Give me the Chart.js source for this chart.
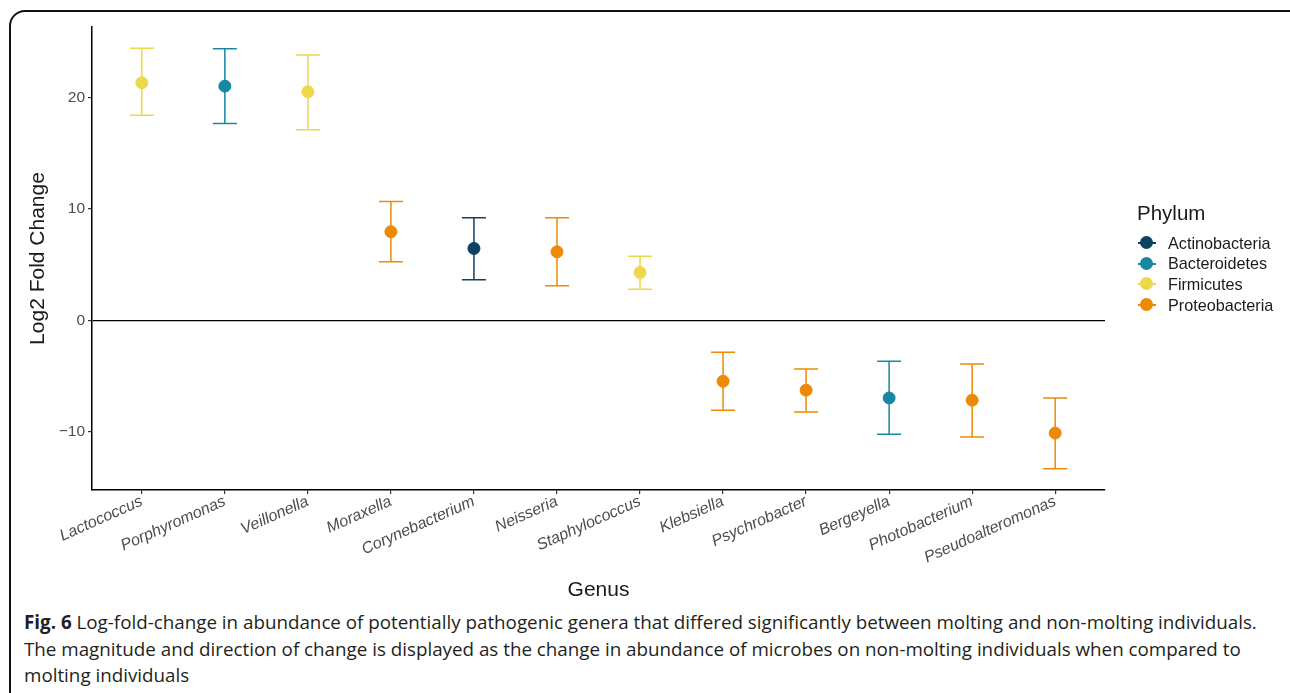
<!DOCTYPE html>
<html>
<head>
<meta charset="utf-8">
<script src="https://cdn.jsdelivr.net/npm/chart.js@4.4.1/dist/chart.umd.min.js"></script>
<style>
  html, body { margin: 0; padding: 0; background: #fff; }
  body { width: 1290px; height: 693px; position: relative; overflow: hidden; font-family: "Liberation Sans", Arial, sans-serif; }
  #frame { position: absolute; left: 9px; top: 10px; width: 1300px; height: 720px; border: 2px solid #111; border-radius: 16px; box-sizing: border-box; }
  #wrap { position: absolute; left: 0; top: 0; width: 1290px; height: 603px; }
  #legend { position: absolute; left: 1137px; top: 201px; color: #1a1a1a; }
  #legend .title { font-size: 20.5px; margin-bottom: 8px; }
  #legend .item { display: flex; align-items: center; height: 20.6px; font-size: 16.2px; }
  #legend .key { position: relative; width: 20px; height: 14px; margin-right: 11px; }
  #legend .key .ln { position: absolute; left: 1px; right: 1px; top: 6px; height: 2px; }
  #legend .key .dot { position: absolute; left: 3px; top: 0; width: 13px; height: 13px; border-radius: 50%; }
  #caption { position: absolute; left: 24px; top: 609px; width: 1260px; font-family: "Open Sans", "Noto Sans", sans-serif; font-size: 18.8px; line-height: 26.5px; color: #231f20; white-space: nowrap; }
  #caption b { font-weight: 700; }
</style>
</head>
<body>
<div id="frame"></div>
<div id="wrap"><canvas id="chart" width="1290" height="603"></canvas></div>
<div id="legend"></div>
<div id="caption"><b>Fig. 6</b> Log-fold-change in abundance of potentially pathogenic genera that differed significantly between molting and non-molting individuals.<br>The magnitude and direction of change is displayed as the change in abundance of microbes on non-molting individuals when compared to<br>molting individuals</div>
<script>
// genera in plot order, with phylum, estimate and interval
const genera = ['Lactococcus', 'Porphyromonas', 'Veillonella', 'Moraxella', 'Corynebacterium', 'Neisseria',
  'Staphylococcus', 'Klebsiella', 'Psychrobacter', 'Bergeyella', 'Photobacterium', 'Pseudoalteromonas'];
const genusPhylum = ['Firmicutes', 'Bacteroidetes', 'Firmicutes', 'Proteobacteria', 'Actinobacteria', 'Proteobacteria',
  'Firmicutes', 'Proteobacteria', 'Proteobacteria', 'Bacteroidetes', 'Proteobacteria', 'Proteobacteria'];
const log2fc = [21.3, 21.0, 20.5, 7.95, 6.45, 6.15, 4.3, -5.45, -6.25, -6.95, -7.15, -10.1];
const lower  = [18.4, 17.65, 17.1, 5.25, 3.65, 3.1, 2.8, -8.05, -8.2, -10.2, -10.45, -13.3];
const upper  = [24.4, 24.35, 23.8, 10.65, 9.2, 9.2, 5.75, -2.85, -4.35, -3.65, -3.9, -6.95];

const phyla = ['Actinobacteria', 'Bacteroidetes', 'Firmicutes', 'Proteobacteria'];
const phylumColors = ['#0d4262', '#1787a3', '#ecd84b', '#ec8a06'];
const yTicks = [-10, 0, 10, 20];

const colorOf = p => phylumColors[phyla.indexOf(p)];
const pointColors = genusPhylum.map(colorOf);

// error bars, drawn under the points
const errorBars = {
  id: 'errorBars',
  beforeDatasetsDraw(chart) {
    const { ctx, scales: { x, y } } = chart;
    ctx.save();
    ctx.lineWidth = 1.5;
    genera.forEach((g, i) => {
      const px = x.getPixelForValue(i);
      const top = y.getPixelForValue(upper[i]);
      const bot = y.getPixelForValue(lower[i]);
      ctx.strokeStyle = pointColors[i];
      ctx.beginPath();
      ctx.moveTo(px, top); ctx.lineTo(px, bot);
      ctx.moveTo(px - 12, top); ctx.lineTo(px + 12, top);
      ctx.moveTo(px - 12, bot); ctx.lineTo(px + 12, bot);
      ctx.stroke();
    });
    ctx.restore();
  }
};

new Chart(document.getElementById('chart'), {
  type: 'scatter',
  data: {
    datasets: [{
      data: log2fc.map((v, i) => ({ x: i, y: v })),
      pointBackgroundColor: pointColors,
      pointBorderColor: pointColors,
      pointRadius: 6,
      pointHoverRadius: 6
    }]
  },
  options: {
    responsive: false,
    animation: false,
    events: [],
    layout: { padding: { top: 27, right: 185, left: 0, bottom: 0 } },
    plugins: { legend: { display: false }, tooltip: { enabled: false } },
    scales: {
      x: {
        type: 'linear', min: -0.6, max: 11.6,
        afterBuildTicks: s => { s.ticks = genera.map((g, i) => ({ value: i })); },
        afterFit: s => { s.height = 113; },
        grid: { drawOnChartArea: false, drawTicks: true, tickLength: 4, tickColor: '#333', lineWidth: 1.2 },
        border: { display: true, color: '#000', width: 1.5 },
        ticks: {
          callback: v => genera[v],
          minRotation: 24, maxRotation: 24, autoSkip: false, padding: -2,
          color: '#4d4d4d', font: { family: 'Liberation Sans', size: 16, style: 'italic' }
        },
        title: { display: true, text: 'Genus', color: '#1a1a1a', padding: { top: 0, bottom: 0 },
          font: { family: 'Liberation Sans', size: 21 } }
      },
      y: {
        min: -15.2, max: 26.3,
        afterBuildTicks: s => { s.ticks = yTicks.map(v => ({ value: v })); },
        afterFit: s => { s.width = 92; },
        grid: { drawOnChartArea: true, drawTicks: true, tickLength: 4, tickColor: '#333', lineWidth: 1.2,
          color: c => (c.tick && c.tick.value === 0) ? '#000' : 'rgba(0,0,0,0)' },
        border: { display: true, color: '#000', width: 1.5 },
        ticks: {
          callback: v => (v < 0 ? '\u2212' + Math.abs(v) : String(v)),
          padding: 3, color: '#4d4d4d', font: { family: 'Liberation Sans', size: 15.5 }
        },
        title: { display: true, text: 'Log2 Fold Change', color: '#1a1a1a', padding: { top: 26, bottom: 0 },
          font: { family: 'Liberation Sans', size: 21 } }
      }
    }
  },
  plugins: [errorBars]
});

// legend
const legend = document.getElementById('legend');
legend.innerHTML = '<div class="title">Phylum</div>' + phyla.map((p, i) =>
  `<div class="item"><span class="key"><span class="ln" style="background:${phylumColors[i]}"></span>` +
  `<span class="dot" style="background:${phylumColors[i]}"></span></span>${p}</div>`).join('');
</script>
</body>
</html>
